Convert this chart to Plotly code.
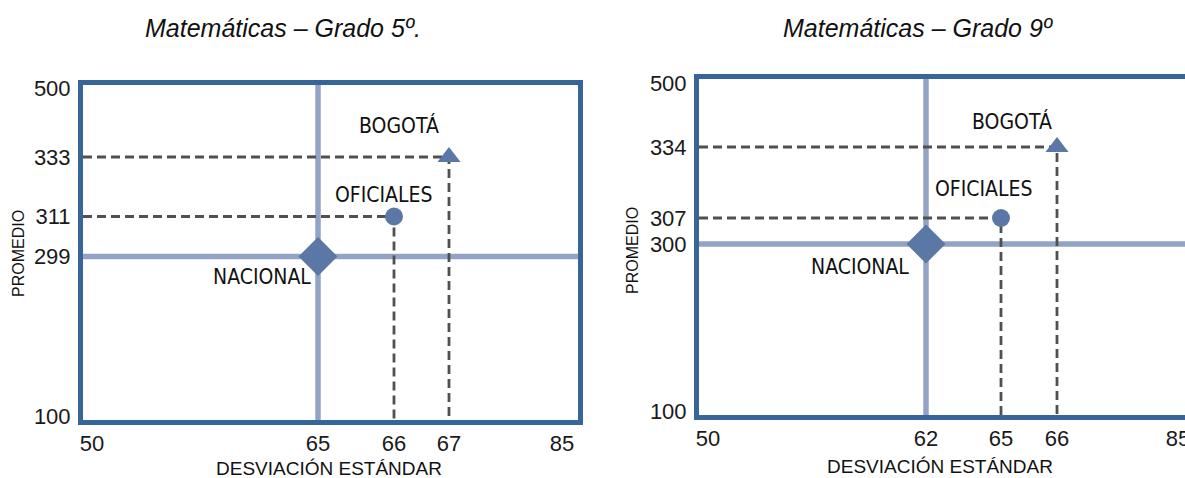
import numpy as np
import plotly.graph_objects as go

# ---------------- data ----------------
titles = ["Matemáticas – Grado 5º.", "Matemáticas – Grado 9º"]
groups = ["NACIONAL", "OFICIALES", "BOGOTÁ"]
sd_5 = [65, 66, 67]
mean_5 = [299, 311, 333]
sd_9 = [62, 65, 66]
mean_9 = [300, 307, 334]
x_ticks_5 = [50, 65, 66, 67, 85]
y_ticks_5 = [100, 299, 311, 333, 500]
x_ticks_9 = [50, 62, 65, 66, 85]
y_ticks_9 = [100, 300, 307, 334, 500]

# ---------------- layout (schematic, non-linear axes) ----------------
W, H = 1185, 478
# plot areas in page pixels (inner edges): left, right, top, bottom
areas = [(83, 578, 85, 420), (699, 1185, 79, 415)]
# display positions of ticks along each panel's axis (pixels from inner left / inner bottom)
x_pos = [[9, 235, 311, 366, 479], [9, 227, 302, 358, 479]]
y_pos = [[4, 163.5, 203.5, 263, 331.5], [4, 171, 197, 268, 331.5]]
# label offsets (px) relative to the marker: NACIONAL, OFICIALES, BOGOTÁ (dx right, dy up)
label_off = [[(-56, -20), (-11, 22), (-50, 32)], [(-66, -23), (-18, 29), (-45, 26)]]
title_xy = [(283, 28), (918, 28)]
xtitle_xy = [(329, 468), (940, 466)]
ytitle_xy = [(18, 254), (633, 251)]

FRAME = "#376499"
CROSS = "#93a3c6"
MARK = "#5a77a6"
DASH = "#505050"
COND = "DejaVu Sans Condensed, Liberation Sans Narrow, Liberation Sans"
TICKFONT = dict(family="Liberation Sans", size=22, color="#1a1a1a")
LABFONT = dict(family=COND, size=21, color="#111111")


def px2paper(x, y):
    return x / W, 1 - y / H


fig = go.Figure()
panels = [(sd_5, mean_5, x_ticks_5, y_ticks_5), (sd_9, mean_9, x_ticks_9, y_ticks_9)]
symbols = ["diamond", "circle", "triangle-up"]
sizes = [30, 18, 20]

for i, (sd, mean, xt, yt) in enumerate(panels):
    l, r, t, b = areas[i]
    xr = r - l
    yr = b - t
    xa = "x" if i == 0 else "x2"
    ya = "y" if i == 0 else "y2"
    px = np.interp(sd, xt, x_pos[i])
    py = np.interp(mean, yt, y_pos[i])

    # national cross lines
    fig.add_trace(go.Scatter(x=[px[0], px[0]], y=[0, yr], mode="lines",
                             line=dict(color=CROSS, width=5.5), xaxis=xa, yaxis=ya,
                             showlegend=False, hoverinfo="skip"))
    fig.add_trace(go.Scatter(x=[0, xr], y=[py[0], py[0]], mode="lines",
                             line=dict(color=CROSS, width=5.5), xaxis=xa, yaxis=ya,
                             showlegend=False, hoverinfo="skip"))
    # dashed reference lines for other groups
    for k in (1, 2):
        fig.add_trace(go.Scatter(x=[0, px[k], px[k]], y=[py[k], py[k], 0], mode="lines",
                                 line=dict(color=DASH, width=2.8, dash="9px,5px"),
                                 xaxis=xa, yaxis=ya, showlegend=False, hoverinfo="skip"))
    # markers
    for k in range(3):
        fig.add_trace(go.Scatter(x=[px[k]], y=[py[k]], mode="markers",
                                 marker=dict(symbol=symbols[k], size=sizes[k], color=MARK,
                                             line=dict(width=0)),
                                 xaxis=xa, yaxis=ya, showlegend=False, name=groups[k]))
        dx, dy = label_off[i][k]
        fig.add_annotation(x=px[k], y=py[k], xref=xa, yref=ya, text=groups[k],
                           showarrow=False, xshift=dx, yshift=dy, font=LABFONT,
                           xanchor="center", yanchor="middle")

    # titles and axis titles
    tx, ty = px2paper(*title_xy[i])
    fig.add_annotation(x=tx, y=ty, xref="paper", yref="paper",
                       text="<i>" + titles[i] + "</i>", showarrow=False,
                       xanchor="center", yanchor="middle",
                       font=dict(family="Liberation Sans", size=25, color="#111"))
    tx, ty = px2paper(*xtitle_xy[i])
    fig.add_annotation(x=tx, y=ty, xref="paper", yref="paper",
                       text="DESVIACIÓN ESTÁNDAR", showarrow=False,
                       xanchor="center", yanchor="middle",
                       font=dict(family="Liberation Sans", size=19, color="#111"))
    tx, ty = px2paper(*ytitle_xy[i])
    fig.add_annotation(x=tx, y=ty, xref="paper", yref="paper",
                       text="PROMEDIO", textangle=-90, showarrow=False,
                       xanchor="center", yanchor="middle",
                       font=dict(family="Liberation Sans", size=16, color="#111"))

    x0, y1 = px2paper(l, t)
    x1, y0 = px2paper(r, b)
    axx = dict(domain=[x0, min(x1, 1.0)], range=[0, xr], showgrid=False, zeroline=False,
               tickmode="array", tickvals=x_pos[i], ticktext=[str(v) for v in xt],
               showline=True, linecolor=FRAME, linewidth=5, mirror=True, ticks="",
               tickfont=TICKFONT, anchor=ya, fixedrange=True, ticklabelstandoff=0,
               ticklabeloverflow="allow", automargin=False)
    axy = dict(domain=[y0, y1], range=[0, yr], showgrid=False, zeroline=False,
               tickmode="array", tickvals=y_pos[i], ticktext=[str(v) for v in yt],
               showline=True, linecolor=FRAME, linewidth=5, mirror=(i == 0), ticks="",
               tickfont=TICKFONT, anchor=xa, fixedrange=True, ticklabelstandoff=3,
               ticklabeloverflow="allow", automargin=False)
    if i == 0:
        fig.update_layout(xaxis=axx, yaxis=axy)
    else:
        fig.update_layout(xaxis2=axx, yaxis2=axy)

fig.update_layout(width=W, height=H, margin=dict(l=0, r=0, t=0, b=0, autoexpand=False),
                  paper_bgcolor="white", plot_bgcolor="white", showlegend=False)
fig.write_html("out.html", config={"displayModeBar": False, "staticPlot": True},
               post_script="document.body.style.margin='0';")
